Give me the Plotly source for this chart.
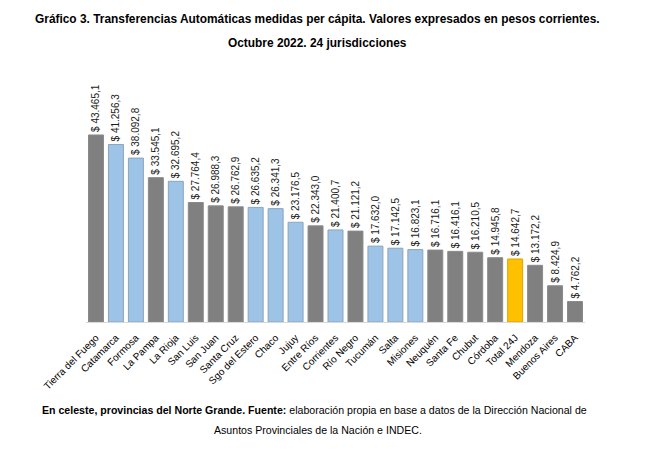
import plotly.graph_objects as go

provincias = [
    "Tierra del Fuego", "Catamarca", "Formosa", "La Pampa", "La Rioja", "San Luis",
    "San Juan", "Santa Cruz", "Sgo del Estero", "Chaco", "Jujuy", "Entre Ríos",
    "Corrientes", "Río Negro", "Tucumán", "Salta", "Misiones", "Neuquén",
    "Santa Fe", "Chubut", "Córdoba", "Total 24J", "Mendoza", "Buenos Aires", "CABA",
]
valores = [
    43465.1, 41256.3, 38092.8, 33545.1, 32695.2, 27764.4,
    26988.3, 26762.9, 26635.2, 26341.3, 23176.5, 22343.0,
    21400.7, 21121.2, 17632.0, 17142.5, 16823.1, 16716.1,
    16416.1, 16210.5, 14945.8, 14642.7, 13172.2, 8424.9, 4762.2,
]
# "ng" = Norte Grande, "tot" = total, "otro" = resto
grupo = [
    "otro", "ng", "ng", "otro", "ng", "otro",
    "otro", "otro", "ng", "ng", "ng", "otro",
    "ng", "otro", "ng", "ng", "ng", "otro",
    "otro", "otro", "otro", "tot", "otro", "otro", "otro",
]

colores = {"otro": "#808080", "ng": "#9DC3E6", "tot": "#FFC000"}
bordes = {"otro": "#8a8a8a", "ng": "#8aa4bd", "tot": "#d9a300"}


def pesos(v):
    s = f"{v:,.1f}".replace(",", "X").replace(".", ",").replace("X", ".")
    return "$ " + s


FONT = "Liberation Sans, Arial, sans-serif"
W, H = 669, 458
MT, MB = 67, 144
OFF = 8  # body margin of the html page

fig = go.Figure()
fig.add_trace(go.Bar(
    x=provincias,
    y=valores,
    marker=dict(
        color=[colores[g] for g in grupo],
        line=dict(color=[bordes[g] for g in grupo], width=1),
    ),
    text=[pesos(v) for v in valores],
    textposition="outside",
    textangle=-90,
    constraintext="none",
    textfont=dict(family=FONT, size=10, color="#1a1a1a"),
    cliponaxis=False,
    hoverinfo="x+y",
))


def py(px):
    # pixel from top of the window -> paper coordinate
    return (H - MB - (px - OFF)) / (H - MT - MB)


fig.update_layout(
    width=W,
    height=H,
    paper_bgcolor="white",
    plot_bgcolor="white",
    showlegend=False,
    bargap=0.25,
    margin=dict(l=78, r=92, t=MT, b=MB),
    xaxis=dict(
        automargin=False,
        showline=True,
        linecolor="#d9d9d9",
        linewidth=1,
        tickangle=-45,
        ticks="outside",
        ticklen=5,
        tickcolor="rgba(0,0,0,0)",
        tickfont=dict(family=FONT, size=10, color="#000000"),
        showgrid=False,
    ),
    yaxis=dict(visible=False, range=[0, 57400]),
    annotations=[
        dict(
            text="<b>Gráfico 3. Transferencias Automáticas medidas per cápita. Valores expresados en pesos corrientes.</b>",
            x=0.464, y=py(19), xref="paper", yref="paper", showarrow=False, yanchor="middle",
            font=dict(family=FONT, size=11.9, color="#000000"),
        ),
        dict(
            text="<b>Octubre 2022. 24 jurisdicciones</b>",
            x=0.464, y=py(43), xref="paper", yref="paper", showarrow=False, yanchor="middle",
            font=dict(family=FONT, size=11.9, color="#000000"),
        ),
        dict(
            text="<b>En celeste, provincias del Norte Grande. Fuente:</b> elaboración propia en base a datos de la Dirección Nacional de",
            x=0.458, y=py(410), xref="paper", yref="paper", showarrow=False, yanchor="middle",
            font=dict(family=FONT, size=10.6, color="#000000"),
        ),
        dict(
            text="Asuntos Provinciales de la Nación e INDEC.",
            x=0.464, y=py(430), xref="paper", yref="paper", showarrow=False, yanchor="middle",
            font=dict(family=FONT, size=10.6, color="#000000"),
        ),
    ],
)

fig.write_html("out.html")
